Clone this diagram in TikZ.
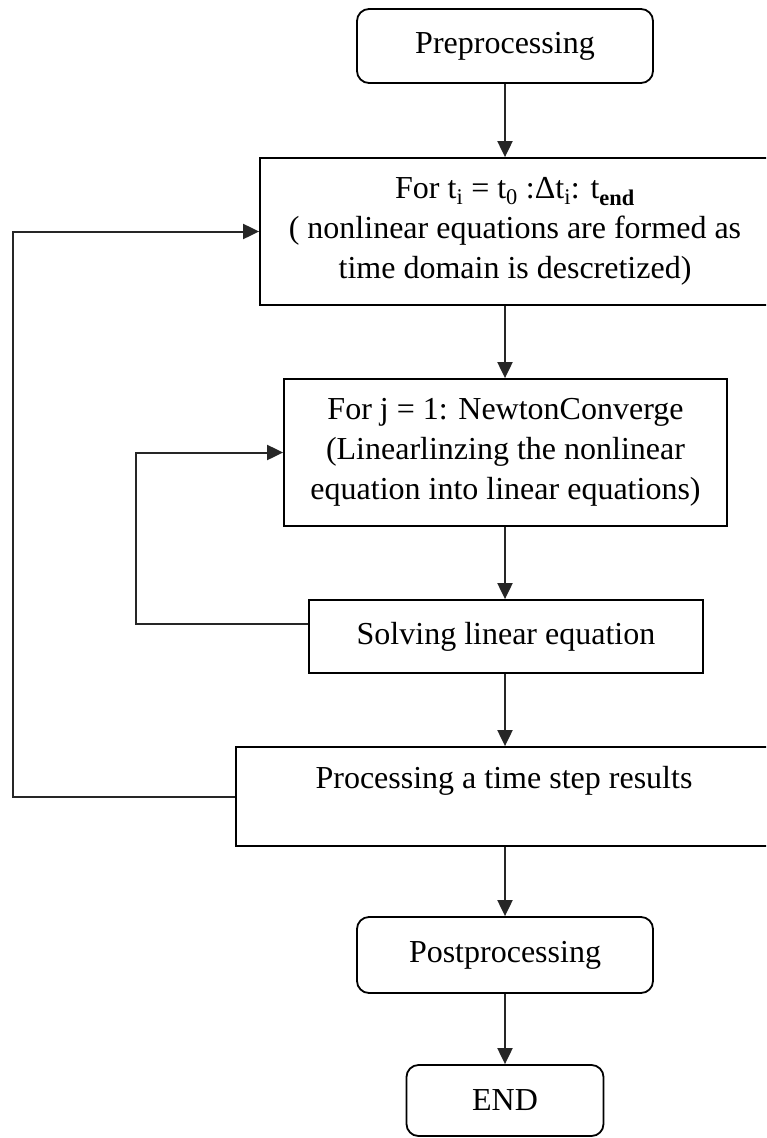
\documentclass[tikz,border=0pt]{standalone}
\usepackage{fontspec}
\setmainfont{Liberation Serif}
\usetikzlibrary{arrows.meta}
\begin{document}
\begin{tikzpicture}[x=1pt,y=-1pt,
  box/.style={draw=black, line width=1.8pt, inner sep=0pt, align=center, font=\fontsize{32}{40}\selectfont},
  rbox/.style={box, rounded corners=12pt},
  lbl/.style={inner sep=0pt, align=center, font=\fontsize{32}{40}\selectfont},
  arr/.style={draw=black!85, line width=2pt, -{Triangle[length=16pt,width=15pt]}},
  link/.style={draw=black!85, line width=2pt}]
\clip (0,0) rectangle (766,1138);
\fill[white] (0,0) rectangle (766,1138);
% nodes
\node[rbox, minimum width=296pt, minimum height=74pt] (pre) at (505,46) {Preprocessing};
\node[box, minimum width=510pt, minimum height=147pt] (loopt) at (515,231.5)
  {For t\textsubscript{i} = t\textsubscript{0} :Δt\textsubscript{i}: t\textsubscript{\textbf{end}}\\
   ( nonlinear equations are formed as\\ time domain is descretized)};
\node[box, minimum width=443pt, minimum height=147pt] (newton) at (505.5,452.5)
  {For j = 1: NewtonConverge\\ (Linearlinzing the nonlinear\\ equation into linear equations)};
\node[box, minimum width=394pt, minimum height=73pt] (solve) at (506,636.5) {Solving linear equation};
\node[box, minimum width=536pt, minimum height=99pt] (proc) at (504,796.5) {};
\node[lbl] (proctext) at ([yshift=16pt]proc.center) {Processing a time step results};
\node[rbox, minimum width=296pt, minimum height=76pt] (post) at (505,955) {Postprocessing};
\node[rbox, minimum width=197pt, minimum height=71pt] (endn) at (505,1100.5) {END};
% helper coordinates
\coordinate (outerx) at (13,0);
\coordinate (innerx) at (136,0);
\coordinate (solveout) at ([yshift=12.5pt]solve.west);
% vertical arrows
\draw[arr] (pre.south) -- (pre.south |- loopt.north);
\draw[arr] (pre.south |- loopt.south) -- (pre.south |- newton.north);
\draw[arr] (pre.south |- newton.south) -- (pre.south |- solve.north);
\draw[arr] (pre.south |- solve.south) -- (pre.south |- proc.north);
\draw[arr] (pre.south |- proc.south) -- (post.north);
\draw[arr] (post.south) -- (endn.north);
% loops
\draw[arr] (proc.west) -- (proc.west -| outerx) -- (loopt.west -| outerx) -- (loopt.west);
\draw[arr] (solveout) -- (solveout -| innerx) -- (newton.west -| innerx) -- (newton.west);
\end{tikzpicture}
\end{document}
